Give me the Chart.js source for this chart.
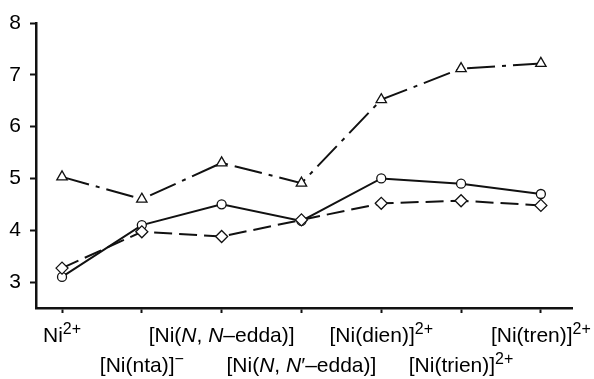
<!DOCTYPE html>
<html>
<head>
<meta charset="utf-8">
<script src="https://cdn.jsdelivr.net/npm/chart.js@4/dist/chart.umd.min.js"></script>
<style>
  body { margin: 0; background: #fff; }
</style>
</head>
<body>
<canvas id="chart" width="594" height="379"></canvas>
<script>
// _x_ = italic, ^x = superscript
const categories = ["Ni^2+", "[Ni(nta)]^\u2212", "[Ni(_N_, _N_\u2013edda)]", "[Ni(_N_, _N_\u2032\u2013edda)]",
  "[Ni(dien)]^2+", "[Ni(trien)]^2+", "[Ni(tren)]^2+"];
const triangleSeries = [5.03, 4.6, 5.3, 4.91, 6.52, 7.12, 7.22];
const circleSeries = [3.1, 4.1, 4.5, 4.18, 5.0, 4.9, 4.7];
const diamondSeries = [3.27, 3.97, 3.88, 4.2, 4.52, 4.57, 4.48];
const yTicks = [3, 4, 5, 6, 7, 8];

const FONT = "'Liberation Sans', Arial, Helvetica, sans-serif";

function points(values) {
  return values.map((v, i) => ({ x: i, y: v }));
}

function parseLabel(str) {
  const runs = [];
  str.split(/(_[^_]+_|\^.+$)/).forEach(part => {
    if (!part) return;
    if (part[0] === "_") runs.push({ text: part.slice(1, -1), style: "italic" });
    else if (part[0] === "^") runs.push({ text: part.slice(1), style: "sup" });
    else runs.push({ text: part, style: "normal" });
  });
  return runs;
}

const labelPlugin = {
  id: "categoryLabels",
  afterDraw(chart) {
    const ctx = chart.ctx;
    const xs = chart.scales.x;
    const bottom = chart.chartArea.bottom;
    ctx.save();
    ctx.fillStyle = "#000";
    ctx.textBaseline = "alphabetic";
    categories.forEach((cat, i) => {
      const runs = parseLabel(cat);
      const fontFor = s => s === "italic" ? "italic 21px " + FONT : s === "sup" ? "16px " + FONT : "21px " + FONT;
      let total = 0;
      runs.forEach(r => { ctx.font = fontFor(r.style); r.w = ctx.measureText(r.text).width; total += r.w; });
      let x = xs.getPixelForValue(i) - total / 2;
      const y = bottom + (i % 2 === 0 ? 34 : 64);
      runs.forEach(r => {
        ctx.font = fontFor(r.style);
        ctx.fillText(r.text, x, r.style === "sup" ? y - 8 : y);
        x += r.w;
      });
    });
    ctx.restore();
  }
};

const common = {
  borderColor: "#111",
  borderWidth: 2,
  pointBackgroundColor: "#fff",
  pointBorderColor: "#111",
  pointBorderWidth: 1.3,
  tension: 0,
  fill: false
};

new Chart(document.getElementById("chart"), {
  type: "line",
  data: {
    datasets: [
      { ...common, data: points(diamondSeries), borderDash: [18, 7], pointStyle: "rectRot", pointRadius: 6 },
      { ...common, data: points(circleSeries), pointStyle: "circle", pointRadius: 4.5 },
      { ...common, data: points(triangleSeries), borderDash: [28, 7, 4, 7], pointStyle: "triangle", pointRadius: 6 }
    ]
  },
  options: {
    responsive: false,
    animation: false,
    layout: { padding: { top: 23, right: 22, left: 0, bottom: 0 } },
    plugins: { legend: { display: false }, tooltip: { enabled: false } },
    scales: {
      x: {
        type: "linear",
        min: -0.326,
        max: 6.39,
        afterBuildTicks: s => { s.ticks = categories.map((c, i) => ({ value: i })); },
        afterFit: s => { s.height = 71; },
        grid: { drawOnChartArea: false, tickLength: 5, tickWidth: 2, color: "#111" },
        border: { color: "#111", width: 2.5 },
        ticks: { callback: () => "" }
      },
      y: {
        min: 2.5,
        max: 8,
        afterBuildTicks: s => { s.ticks = yTicks.map(v => ({ value: v })); },
        afterFit: s => { s.width = 36; },
        grid: { drawOnChartArea: false, tickLength: 6, tickWidth: 2, color: "#111" },
        border: { color: "#111", width: 2.5 },
        ticks: { color: "#000", padding: 9, font: { family: FONT, size: 21 } }
      }
    }
  },
  plugins: [labelPlugin]
});
</script>
</body>
</html>
